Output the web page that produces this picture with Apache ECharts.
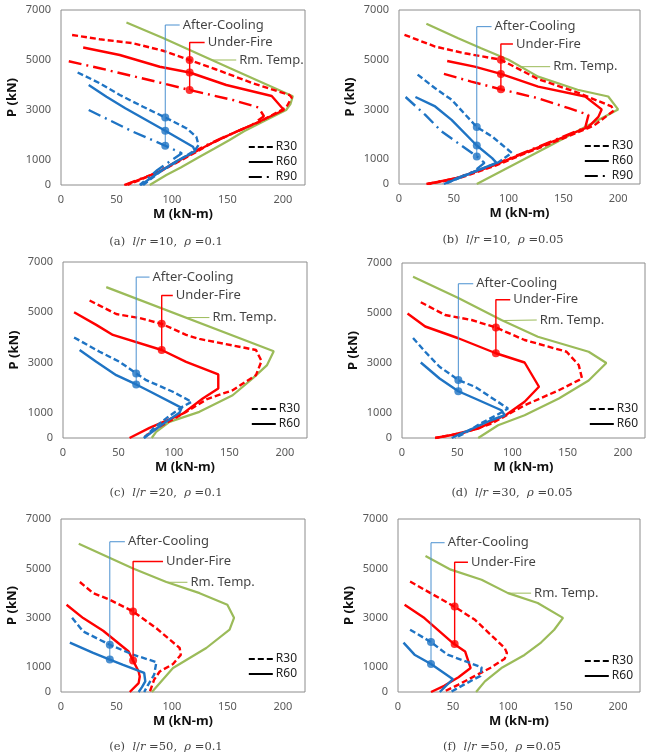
<!DOCTYPE html>
<html><head><meta charset="utf-8">
<script src="https://cdn.jsdelivr.net/npm/echarts@6/dist/echarts.min.js"></script>
<style>html,body{margin:0;padding:0;background:#fff}#c{width:651px;height:754px}</style>
</head><body><div id="c"></div>
<script>
// ---------- DATA (M [kN-m], P [kN]) ----------
// (a) l/r=10, rho=0.1
const a_rt   = [[59,6500],[92,5880],[152,4680],[209,3550],[207,3250],[203,3000],[185,2600],[165,2150],[152,1800],[138,1450],[125,1130],[108,700],[95,400],[80,0]];
const a_uf30 = [[10,6000],[35,5830],[65,5670],[92,5370],[116,5000],[140,4620],[173,4070],[206,3600],[208,3500],[203,3100],[180,2550],[155,2070],[135,1650],[115,1150],[89,530],[60,0]];
const a_uf60 = [[20,5500],[53,5200],[89,4730],[116,4500],[149,4000],[190,3560],[201,3000],[178,2520],[153,2030],[133,1610],[112,1110],[87,500],[58,0]];
const a_uf90 = [[7,4950],[35,4670],[86,4130],[116,3800],[155,3400],[178,3100],[183,2750],[172,2400],[150,1980],[130,1570],[110,1080],[85,470],[57,0]];
const a_ac30 = [[15,4500],[35,4070],[53,3600],[74,3130],[94,2700],[113,2270],[122,1930],[124,1600],[121,1400],[105,950],[90,550],[74,0]];
const a_ac60 = [[25,4000],[41,3530],[58,3070],[94,2170],[119,1530],[121,1350],[104,950],[89,530],[72,0]];
const a_ac90 = [[25,3000],[65,2130],[94,1570],[109,1270],[100,1000],[87,600],[71,0]];
const a_ufDots = [[116,5000],[116,4500],[116,3800]];
const a_acDots = [[94,2700],[94,2170],[94,1570]];
const a_callouts = {ac:[6400,107], uf:[5700,129.5], rt:[[136,5000],[158,5000]]};

// (b) l/r=10, rho=0.05
const b_rt   = [[25,6450],[54,5860],[75,5460],[100,5000],[127,4320],[163,3790],[191,3520],[200,3000],[136,1500],[71,0]];
const b_uf30 = [[5,6000],[33,5530],[60,5260],[93,5000],[127,4220],[163,3680],[194,3120],[196,2950],[178,2350],[148,1800],[118,1280],[88,740],[56,250],[27,0]];
const b_uf60 = [[44,4950],[69,4720],[93,4430],[127,3920],[170,3520],[185,3000],[182,2700],[173,2300],[143,1760],[113,1220],[83,690],[52,230],[26,0]];
const b_uf90 = [[41,4430],[66,4120],[93,3810],[127,3450],[155,3050],[173,2780],[170,2270],[140,1730],[110,1190],[80,660],[50,210],[25,0]];
const b_ac30 = [[17,4400],[33,3850],[48,3390],[71,2290],[85,1910],[103,1250],[90,850],[70,520],[55,250],[42,0]];
const b_ac60 = [[15,3500],[33,3120],[48,2580],[71,1550],[85,1040],[89,850],[70,520],[55,250],[41,0]];
const b_ac90 = [[6,3500],[24,2780],[39,2110],[71,1110],[78,850],[68,500],[53,240],[40,0]];
const b_ufDots = [[93,5000],[93,4430],[93,3810]];
const b_acDots = [[71,2290],[71,1550],[71,1110]];
const b_callouts = {ac:[6330,84.5], uf:[5630,104], rt:[[111,4720],[138,4720]]};

// (c) l/r=20, rho=0.1
const c_rt   = [[39,6000],[190,3450],[184,2900],[171,2370],[153,1700],[123,1040],[96,640],[84,240],[80,0]];
const c_uf30 = [[24,5470],[48,4930],[69,4770],[89,4540],[111,4100],[123,3940],[174,3500],[179,3060],[174,2500],[153,1900],[130,1550],[111,1040],[84,370],[72,0]];
const c_uf60 = [[10,5000],[30,4500],[45,4100],[89,3500],[111,3030],[140,2530],[140,1970],[126,1570],[108,970],[78,400],[60,0]];
const c_ac30 = [[10,4000],[33,3430],[51,3030],[66,2570],[75,2300],[99,1840],[116,1440],[108,1250],[95,850],[82,400],[73,0]];
const c_ac60 = [[15,3500],[30,3030],[48,2500],[66,2130],[78,1860],[107,1200],[105,1000],[93,650],[82,300],[73,0]];
const c_ufDots = [[89,4540],[89,3500]];
const c_acDots = [[66,2570],[66,2130]];
const c_callouts = {ac:[6400,78], uf:[5670,99], rt:[[111,4790],[132,4790]]};

// (d) l/r=30, rho=0.05
const d_rt   = [[10,6450],[51,5600],[90,4720],[123,4050],[169,3450],[185,3000],[169,2300],[142,1580],[111,910],[87,510],[69,0]];
const d_uf30 = [[17,5430],[39,4920],[63,4720],[85,4420],[111,3920],[149,3450],[160,2920],[163,2380],[142,1910],[111,1310],[81,575],[55,200],[30,0]];
const d_uf60 = [[5,4980],[21,4460],[51,3990],[85,3390],[111,3020],[124,2050],[111,1450],[95,950],[69,375],[45,120],[30,0]];
const d_ac30 = [[10,4000],[21,3450],[34,2850],[51,2320],[66,2050],[96,1180],[85,900],[70,550],[57,200],[48,0]];
const d_ac60 = [[17,3020],[34,2380],[51,1870],[66,1580],[90,1110],[93,910],[80,700],[65,400],[52,150],[45,0]];
const d_ufDots = [[85,4420],[85,3390]];
const d_acDots = [[51,2320],[51,1870]];
const d_callouts = {ac:[6170,64.5], uf:[5530,98], rt:[[92,4700],[122,4720]]};

// (e) l/r=50, rho=0.1
const e_rt   = [[16,6000],[65,5000],[95,4450],[125,4000],[150,3530],[156,3000],[152,2520],[131,1780],[101,970],[82,0]];
const e_uf30 = [[17,4450],[29,4000],[44,3730],[65,3260],[86,2580],[107,1780],[108,1500],[101,1130],[89,830],[84,500],[80,0]];
const e_uf60 = [[5,3530],[20,2990],[38,2480],[61,1640],[65,1270],[70,830],[71,630],[70,360],[62,0]];
const e_ac30 = [[10,3000],[20,2450],[44,1910],[65,1510],[86,1210],[84,700],[78,250],[75,0]];
const e_ac60 = [[8,2000],[29,1580],[44,1310],[56,1100],[75,770],[76,430],[73,200],[70,0]];
const e_ufDots = [[65,3260],[65,1270]];
const e_acDots = [[44,1910],[44,1310]];
const e_callouts = {ac:[6080,57.6], uf:[5280,92], rt:[[95,4440],[114,4440]]};

// (f) l/r=50, rho=0.05
const f_rt   = [[25,5500],[48,4950],[76,4540],[100,4000],[127,3600],[150,3000],[142,2520],[130,2000],[115,1500],[94,970],[79,430],[71,0]];
const f_uf30 = [[11,4470],[51,3460],[70,2920],[97,1780],[99,1580],[97,1350],[85,1000],[70,650],[55,300],[41,0]];
const f_uf60 = [[6,3530],[24,2990],[51,1940],[61,1640],[66,970],[55,600],[42,250],[30,0]];
const f_ac30 = [[11,2520],[30,2020],[45,1510],[76,1000],[75,650],[60,300],[48,0]];
const f_ac60 = [[5,2000],[15,1510],[30,1130],[50,520],[44,270],[38,0]];
const f_ufDots = [[51.5,3460],[51.5,1940]];
const f_acDots = [[30,2020],[30,1130]];
const f_callouts = {ac:[6040,42.4], uf:[5250,63.6], rt:[[100,4000],[121,4000]]};

const xTicks = [0,50,100,150,200];
const yTicks = [0,1000,3000,5000,7000];
const caseNames = ['R30','R60','R90'];
const captions = [
  ['(a)','10','0.1'],['(b)','10','0.05'],['(c)','20','0.1'],
  ['(d)','30','0.05'],['(e)','50','0.1'],['(f)','50','0.05']
];

// ---------- STYLE / LAYOUT ----------
const RED = '#ff0000', BLUE = '#1f74c4', GREEN = '#9bbb59', ACLINE = '#4a90d0';
const DASH = { R30: [6,3], R60: 'solid', R90: [13,5,2,5] };
const SANS = 'Noto Sans';
const panels = [
  {grid:{left:61,top:10,width:244,height:175}, rt:a_rt, uf:[a_uf30,a_uf60,a_uf90], ac:[a_ac30,a_ac60,a_ac90], ufDots:a_ufDots, acDots:a_acDots, co:a_callouts, leg:{right:354,top:141}, cap:[166,242]},
  {grid:{left:399,top:10,width:241,height:174}, rt:b_rt, uf:[b_uf30,b_uf60,b_uf90], ac:[b_ac30,b_ac60,b_ac90], ufDots:b_ufDots, acDots:b_acDots, co:b_callouts, leg:{right:18,top:140}, cap:[503,240]},
  {grid:{left:63,top:262,width:244,height:176}, rt:c_rt, uf:[c_uf30,c_uf60], ac:[c_ac30,c_ac60], ufDots:c_ufDots, acDots:c_acDots, co:c_callouts, leg:{right:351,top:403}, cap:[166,493]},
  {grid:{left:402,top:263,width:243,height:175}, rt:d_rt, uf:[d_uf30,d_uf60], ac:[d_ac30,d_ac60], ufDots:d_ufDots, acDots:d_acDots, co:d_callouts, leg:{right:13,top:403}, cap:[512,493]},
  {grid:{left:61,top:519,width:244,height:173}, rt:e_rt, uf:[e_uf30,e_uf60], ac:[e_ac30,e_ac60], ufDots:e_ufDots, acDots:e_acDots, co:e_callouts, leg:{right:354,top:653}, cap:[166,747]},
  {grid:{left:398,top:519,width:242,height:173}, rt:f_rt, uf:[f_uf30,f_uf60], ac:[f_ac30,f_ac60], ufDots:f_ufDots, acDots:f_acDots, co:f_callouts, leg:{right:18,top:655}, cap:[502,747]}
];

const grids = [], xAxes = [], yAxes = [], series = [], legends = [], graphics = [];

panels.forEach((p, i) => {
  grids.push(Object.assign({show:true, borderColor:'#8c8c8c', borderWidth:1, backgroundColor:'transparent', containLabel:false}, p.grid));
  xAxes.push({
    gridIndex:i, type:'value', min:0, max:220, interval:50,
    name:'M (kN-m)', nameLocation:'middle', nameGap:23,
    nameTextStyle:{fontWeight:'bold', fontSize:13, color:'#111', fontFamily:SANS},
    axisLine:{show:false}, axisTick:{show:false}, splitLine:{show:false},
    axisLabel:{margin:9, fontSize:11, color:'#595959', fontFamily:SANS,
      formatter: v => xTicks.includes(v) ? String(v) : ''}
  });
  yAxes.push({
    gridIndex:i, type:'value', min:0, max:7000, interval:1000,
    name:'P (kN)', nameLocation:'middle', nameGap:42, nameRotate:90,
    nameTextStyle:{fontWeight:'bold', fontSize:13, color:'#111', fontFamily:SANS},
    axisLine:{show:false}, axisTick:{show:false}, splitLine:{show:false},
    axisLabel:{margin:10, fontSize:11, color:'#595959', fontFamily:SANS,
      formatter: v => yTicks.includes(v) ? String(v) : ''}
  });
  const base = {xAxisIndex:i, yAxisIndex:i, type:'line', symbol:'none', silent:true, animation:false};
  series.push(Object.assign({}, base, {data:p.rt, lineStyle:{color:GREEN, width:2.2}, z:2}));
  p.uf.forEach((d, k) => series.push(Object.assign({}, base, {data:d, lineStyle:{color:RED, width:2.4, type:DASH[caseNames[k]]}, z:3})));
  p.ac.forEach((d, k) => series.push(Object.assign({}, base, {data:d, lineStyle:{color:BLUE, width:2.4, type:DASH[caseNames[k]]}, z:4})));

  // callout leaders
  const acX = p.acDots[0][0], acMin = Math.min(...p.acDots.map(d=>d[1]));
  const ufX = p.ufDots[0][0], ufMin = Math.min(...p.ufDots.map(d=>d[1]));
  series.push(Object.assign({}, base, {data:[[acX,acMin],[acX,p.co.ac[0]],[p.co.ac[1],p.co.ac[0]]], lineStyle:{color:ACLINE, width:1}, z:5}));
  series.push(Object.assign({}, base, {data:[[ufX,ufMin],[ufX,p.co.uf[0]],[p.co.uf[1],p.co.uf[0]]], lineStyle:{color:RED, width:1.4}, z:5}));
  series.push(Object.assign({}, base, {data:p.co.rt, lineStyle:{color:GREEN, width:1}, z:5}));

  // dots
  series.push({type:'scatter', xAxisIndex:i, yAxisIndex:i, data:p.ufDots, symbolSize:8, itemStyle:{color:RED}, z:6, silent:true, animation:false});
  series.push({type:'scatter', xAxisIndex:i, yAxisIndex:i, data:p.acDots, symbolSize:8, itemStyle:{color:BLUE}, z:6, silent:true, animation:false});

  // callout texts
  const lbl = (pt, txt) => ({type:'scatter', xAxisIndex:i, yAxisIndex:i, data:[pt], symbolSize:0, silent:true, animation:false,
    itemStyle:{color:'rgba(0,0,0,0)'}, z:7,
    label:{show:true, position:'right', distance:3, formatter:txt, fontSize:13, color:'#111', fontFamily:SANS}});
  series.push(lbl([p.co.ac[1], p.co.ac[0]], 'After-Cooling'));
  series.push(lbl([p.co.uf[1], p.co.uf[0]], 'Under-Fire'));
  series.push(lbl(p.co.rt[1], 'Rm. Temp.'));

  legends.push({
    data: caseNames.slice(0, p.uf.length), orient:'vertical', right:p.leg.right, top:p.leg.top,
    itemWidth:24, itemHeight:12, itemGap:3, padding:0, selectedMode:false,
    itemStyle:{color:'rgba(0,0,0,0)', borderColor:'rgba(0,0,0,0)', borderWidth:0, opacity:0},
    textStyle:{fontSize:12, color:'#222', fontFamily:SANS, padding:[0,0,0,-2]}
  });

  const c = captions[i];
  graphics.push({type:'text', x:p.cap[0], y:p.cap[1], silent:true,
    style:{text:`{n|${c[0]}  }{i|l}{n|/}{i|r}{n| =${c[1]},  }{i|ρ}{n| =${c[2]}}`, align:'center', verticalAlign:'middle',
      rich:{n:{fontFamily:'DejaVu Serif', fontSize:11.5, fill:'#444'}, i:{fontFamily:'DejaVu Serif', fontStyle:'italic', fontSize:11.5, fill:'#444'}}}});
});

// legend key series (black)
caseNames.forEach(n => series.push({name:n, type:'line', xAxisIndex:0, yAxisIndex:0, data:[], symbol:'none', showSymbol:false,
  itemStyle:{color:'#000'}, lineStyle:{color:'#000', width:2.5, type:DASH[n]}}));

const chart = echarts.init(document.getElementById('c'), null, {renderer:'canvas'});
chart.setOption({
  animation:false, backgroundColor:'#fff',
  grid:grids, xAxis:xAxes, yAxis:yAxes, series:series, legend:legends, graphic:graphics
});
</script>
</body></html>
